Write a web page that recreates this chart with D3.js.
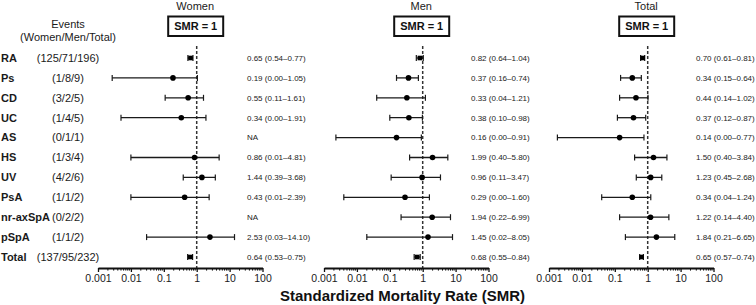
<!DOCTYPE html>
<html>
<head>
<meta charset="utf-8">
<script src="https://cdn.jsdelivr.net/npm/d3@7"></script>
<style>
  html, body { margin: 0; padding: 0; background: #fff; }
  svg { display: block; font-family: "Liberation Sans", Arial, Helvetica, sans-serif; }
</style>
</head>
<body>
<svg id="chart" width="756" height="305"></svg>
<script>
// ---------------- DATA ----------------
const rows = ["RA", "Ps", "CD", "UC", "AS", "HS", "UV", "PsA", "nr-axSpA", "pSpA", "Total"];
const events = ["(125/71/196)", "(1/8/9)", "(3/2/5)", "(1/4/5)", "(0/1/1)", "(1/3/4)", "(4/2/6)", "(1/1/2)", "(0/2/2)", "(1/1/2)", "(137/95/232)"];
const panels = ["Women", "Men", "Total"];

const womenEst = [0.65, 0.19, 0.55, 0.34, null, 0.86, 1.44, 0.43, null, 2.53, 0.64];
const womenLo  = [0.54, 0.0027, 0.11, 0.005, null, 0.01, 0.39, 0.01, null, 0.03, 0.53];
const womenHi  = [0.77, 1.05, 1.61, 1.91, null, 4.81, 3.68, 2.39, null, 14.10, 0.75];
const womenText = ["0.65 (0.54–0.77)", "0.19 (0.00–1.05)", "0.55 (0.11–1.61)", "0.34 (0.00–1.91)", "NA",
  "0.86 (0.01–4.81)", "1.44 (0.39–3.68)", "0.43 (0.01–2.39)", "NA", "2.53 (0.03–14.10)", "0.64 (0.53–0.75)"];

const menEst = [0.82, 0.37, 0.33, 0.38, 0.16, 1.99, 0.96, 0.29, 1.94, 1.45, 0.68];
const menLo  = [0.64, 0.16, 0.04, 0.10, 0.0023, 0.40, 0.11, 0.004, 0.22, 0.02, 0.55];
const menHi  = [1.04, 0.74, 1.21, 0.98, 0.91, 5.80, 3.47, 1.60, 6.99, 8.05, 0.84];
const menText = ["0.82 (0.64–1.04)", "0.37 (0.16–0.74)", "0.33 (0.04–1.21)", "0.38 (0.10–0.98)", "0.16 (0.00–0.91)",
  "1.99 (0.40–5.80)", "0.96 (0.11–3.47)", "0.29 (0.00–1.60)", "1.94 (0.22–6.99)", "1.45 (0.02–8.05)", "0.68 (0.55–0.84)"];

const totalEst = [0.70, 0.34, 0.44, 0.37, 0.14, 1.50, 1.23, 0.34, 1.22, 1.84, 0.65];
const totalLo  = [0.61, 0.15, 0.14, 0.12, 0.0018, 0.40, 0.45, 0.04, 0.14, 0.21, 0.57];
const totalHi  = [0.81, 0.64, 1.02, 0.87, 0.77, 3.84, 2.68, 1.24, 4.40, 6.65, 0.74];
const totalText = ["0.70 (0.61–0.81)", "0.34 (0.15–0.64)", "0.44 (0.14–1.02)", "0.37 (0.12–0.87)", "0.14 (0.00–0.77)",
  "1.50 (0.40–3.84)", "1.23 (0.45–2.68)", "0.34 (0.04–1.24)", "1.22 (0.14–4.40)", "1.84 (0.21–6.65)", "0.65 (0.57–0.74)"];

const tickValues = [0.001, 0.01, 0.1, 1, 10, 100];
const tickLabels = ["0.001", "0.01", "0.1", "1", "10", "100"];
const refLabel = "SMR = 1";
const xTitle = "Standardized Mortality Rate (SMR)";
const eventsHeader = ["Events", "(Women/Men/Total)"];

// ---------------- LAYOUT ----------------
const svg = d3.select("#chart");
const ink = "#1a1a1a";
const panelX0 = [98, 324, 549];
const panelW = 164.5;
const textX = [247, 471, 696];
const axisY = 268;
const squareRows = new Set(["RA", "Total"]);

const y = d3.scalePoint().domain(rows).range([58, 257]);

const series = [
  { est: womenEst, lo: womenLo, hi: womenHi, text: womenText },
  { est: menEst, lo: menLo, hi: menHi, text: menText },
  { est: totalEst, lo: totalLo, hi: totalHi, text: totalText }
];

// left labels
svg.append("g").selectAll("text").data(eventsHeader).join("text")
  .attr("x", 68).attr("y", (d, i) => 28 + i * 13)
  .attr("text-anchor", "middle").attr("font-size", 11).attr("fill", ink)
  .text(d => d);

const rowG = svg.append("g");
rowG.selectAll("text.name").data(rows).join("text").attr("class", "name")
  .attr("x", 1).attr("y", d => y(d)).attr("dy", "0.35em")
  .attr("font-size", 11).attr("font-weight", "bold").attr("fill", ink)
  .text(d => d);
rowG.selectAll("text.ev").data(events).join("text").attr("class", "ev")
  .attr("x", 68).attr("y", (d, i) => y(rows[i])).attr("dy", "0.35em")
  .attr("text-anchor", "middle").attr("font-size", 11).attr("fill", ink)
  .text(d => d);

panels.forEach((name, p) => {
  const x = d3.scaleLog().domain([0.001, 100]).range([panelX0[p], panelX0[p] + panelW]);
  const s = series[p];
  const g = svg.append("g");
  const x1 = x(1);

  // title
  g.append("text").attr("x", x1 - 1.5).attr("y", 10).attr("text-anchor", "middle")
    .attr("font-size", 11).attr("fill", ink).text(name);
  // SMR box
  g.append("rect").attr("x", x1 - 28.5).attr("y", 16.5).attr("width", 55).attr("height", 19.5)
    .attr("fill", "#fff").attr("stroke", "#111").attr("stroke-width", 2);
  g.append("text").attr("x", x1 - 1).attr("y", 30).attr("text-anchor", "middle")
    .attr("font-size", 11).attr("font-weight", "bold").attr("fill", "#111").text(refLabel);

  // reference line
  g.append("line").attr("x1", x1).attr("x2", x1).attr("y1", 46).attr("y2", axisY)
    .attr("stroke", "#333").attr("stroke-width", 1.5).attr("stroke-dasharray", "3,2");

  // axis
  const axis = d3.axisBottom(x).tickValues(tickValues)
    .tickFormat((d, i) => tickLabels[i]).tickSize(4).tickSizeOuter(0).tickPadding(3);
  const ag = g.append("g").attr("transform", `translate(0,${axisY})`).call(axis);
  ag.select(".domain").attr("stroke", "#111").attr("stroke-width", 2.2);
  ag.selectAll(".tick line").attr("stroke", "#111").attr("stroke-width", 1.3);
  ag.selectAll(".tick text").attr("font-size", 10.5).attr("fill", ink)
    .attr("font-family", "Liberation Sans, Arial, sans-serif");
  const minor = [];
  tickValues.slice(0, -1).forEach(d => { for (let k = 2; k <= 9; k++) minor.push(d * k); });
  ag.selectAll("line.minor").data(minor).join("line").attr("class", "minor")
    .attr("x1", d => x(d)).attr("x2", d => x(d)).attr("y1", 0).attr("y2", 2.6)
    .attr("stroke", "#111").attr("stroke-width", 1);

  // CI lines
  const idx = rows.map((r, i) => i).filter(i => s.est[i] != null);
  g.selectAll("line.ci").data(idx).join("line").attr("class", "ci")
    .attr("x1", i => x(s.lo[i])).attr("x2", i => x(s.hi[i]))
    .attr("y1", i => y(rows[i])).attr("y2", i => y(rows[i]))
    .attr("stroke", ink).attr("stroke-width", 1.3);
  ["lo", "hi"].forEach(k => {
    g.selectAll("line.cap" + k).data(idx).join("line").attr("class", "cap" + k)
      .attr("x1", i => x(s[k][i])).attr("x2", i => x(s[k][i]))
      .attr("y1", i => y(rows[i]) - 3).attr("y2", i => y(rows[i]) + 3)
      .attr("stroke", ink).attr("stroke-width", 1.2);
  });
  // markers
  g.selectAll("circle.pt").data(idx.filter(i => !squareRows.has(rows[i]))).join("circle")
    .attr("class", "pt").attr("cx", i => x(s.est[i])).attr("cy", i => y(rows[i]))
    .attr("r", 2.8).attr("fill", "#000");
  g.selectAll("rect.pt").data(idx.filter(i => squareRows.has(rows[i]))).join("rect")
    .attr("class", "pt").attr("x", i => x(s.est[i]) - 2.3).attr("y", i => y(rows[i]) - 2.3)
    .attr("width", 4.6).attr("height", 4.6).attr("fill", "#000");

  // value text
  g.selectAll("text.val").data(s.text).join("text").attr("class", "val")
    .attr("x", textX[p]).attr("y", (d, i) => y(rows[i])).attr("dy", "0.35em")
    .attr("font-size", 8).attr("fill", "#222").text(d => d);
});

svg.append("text").attr("x", 402.5).attr("y", 301).attr("text-anchor", "middle")
  .attr("font-size", 15).attr("font-weight", "bold").attr("fill", "#111")
  .text(xTitle);
</script>
</body>
</html>
